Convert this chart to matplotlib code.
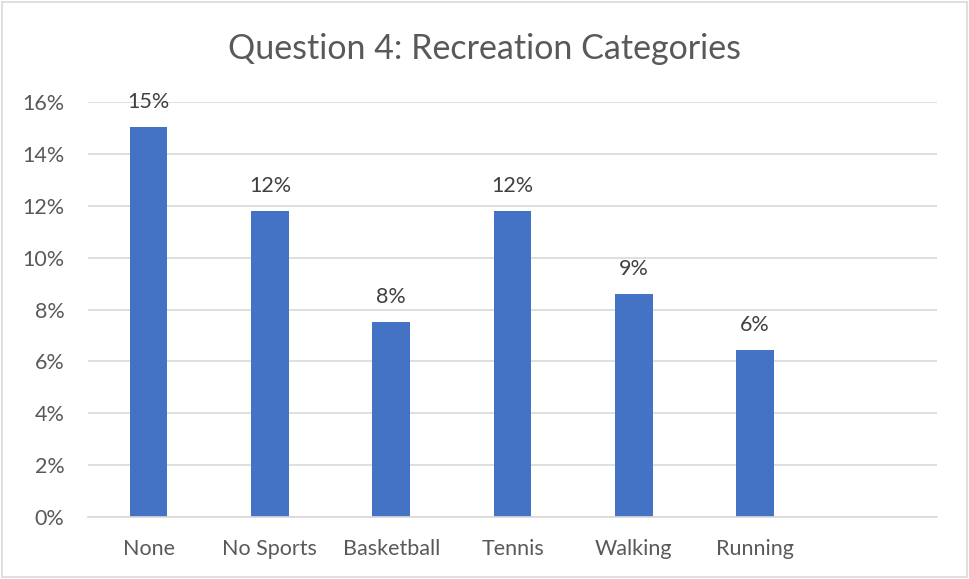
import matplotlib
matplotlib.use("Agg")
import matplotlib.pyplot as plt
from matplotlib.patches import Rectangle

categories = ["None", "No Sports", "Basketball", "Tennis", "Walking", "Running", ""]
values = [0.1503, 0.118, 0.0752, 0.118, 0.086, 0.0644, None]
labels = ["15%", "12%", "8%", "12%", "9%", "6%", ""]
yticks = [0, 0.02, 0.04, 0.06, 0.08, 0.10, 0.12, 0.14, 0.16]
ytick_labels = ["0%", "2%", "4%", "6%", "8%", "10%", "12%", "14%", "16%"]

plt.rcParams['font.family'] = ['Lato', 'DejaVu Sans']

fig = plt.figure(figsize=(9.69, 5.79), dpi=100)
ax = fig.add_axes([88/969, 1-517/579, (937-88)/969, (517-102)/579])

x = list(range(len(categories)))
bar_vals = [v if v is not None else 0 for v in values]
bars = ax.bar(x, bar_vals, width=0.31, color="#4472C4", zorder=3)
for xi, v, lab in zip(x, values, labels):
    if v is not None:
        ax.annotate(lab, (xi, v), xytext=(0, 11), textcoords="offset points",
                    ha="center", va="bottom", fontsize=15.5, color="#404040")

ax.set_xlim(-0.5, len(categories) - 0.5)
ax.set_ylim(0, 0.16)
ax.set_yticks(yticks)
ax.set_yticklabels(ytick_labels, fontsize=15.5, color="#595959")
ax.set_xticks(x)
ax.set_xticklabels(categories, fontsize=15.5, color="#595959")
ax.tick_params(axis="y", length=0, pad=17)
ax.tick_params(axis="x", length=0, pad=16)
ax.grid(axis="y", color="#D9D9D9", linewidth=1.2, zorder=0)
for s in ["top", "right", "left"]:
    ax.spines[s].set_visible(False)
ax.spines["bottom"].set_color("#D9D9D9")
ax.spines["bottom"].set_linewidth(1.2)
ax.spines["bottom"].set_zorder(4)

fig.text(0.5, 1-49/579, "Question 4: Recreation Categories", ha="center", va="center",
         fontsize=24.5, color="#595959")

fig.patches.append(Rectangle((2/969, 2/579), 1-4/969, 1-4/579, transform=fig.transFigure,
                             fill=False, edgecolor="#D9D9D9", linewidth=1.2))

fig.savefig("out.png", dpi=100)
